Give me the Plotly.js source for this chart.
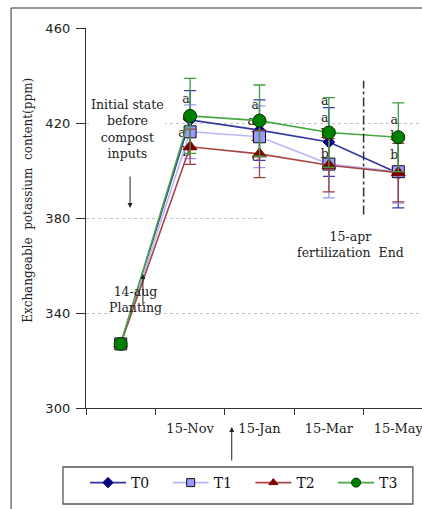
<!DOCTYPE html>
<html><head><meta charset="utf-8">
<script src="https://cdn.plot.ly/plotly-3.0.1.min.js"></script>
<style>html,body{margin:0;padding:0;overflow:hidden;width:422px;height:509px;background:#fff}</style>
</head><body><div id="chart"></div>
<script>
// ---- data ----
var xIndex = [0, 1, 2, 3, 4];
var tickLabels = ['', '15-Nov', '15-Jan', '15-Mar', '15-May'];
var seriesNames = ['T0', 'T1', 'T2', 'T3'];
var T0 = [327, 421.3, 417, 412, 398.8];
var T1 = [327, 416.3, 414.2, 402.7, 399.5];
var T2 = [327, 410, 407, 402.2, 399.1];
var T3 = [327, 423, 421, 416, 414];
var T0err = [0, 12.3, 12.7, 14.5, 14.5];
var T1err = [0, 11.3, 13, 14.2, 13.2];
var T2err = [0, 7.4, 10, 11.2, 12.3];
var T3err = [0, 15.8, 15, 14.7, 14.5];
// significance letters (category index, y, letter)
var sigX = [1, 1, 1, 1, 2, 2, 2, 2, 3, 3, 3, 3, 4, 4, 4];
var sigY = [429.7, 422.1, 415.4, 407.4, 427.2, 420.4, 413.7, 405.3, 428.8, 421.7, 415, 406.5, 420.8, 414.1, 406.1];
var sigText = ['a', 'a', 'ab', 'b', 'a', 'ab', 'b', 'c', 'a', 'a', 'b', 'b', 'a', 'b', 'b'];

var serif = 'DejaVu Serif, Liberation Serif, serif';

var styles = [
  {line: '#35359f', err: '#3a3ab0', marker: {symbol: 'diamond', size: 9, color: '#000080', line: {color: '#000080', width: 1}}, legSize: 8},
  {line: '#b8b8f8', err: '#9a9aff', marker: {symbol: 'square', size: 12, color: '#9999ff', line: {color: '#111', width: 1}}, legSize: 8},
  {line: '#a84444', err: '#a03c3c', marker: {symbol: 'triangle-up', size: 12, color: '#800000', line: {color: '#800000', width: 1}}, legSize: 8},
  {line: '#45a845', err: '#3ca03c', marker: {symbol: 'circle', size: 13, color: '#008000', line: {color: '#003300', width: 1}}, legSize: 9}
];
var values = [T0, T1, T2, T3];
var errors = [T0err, T1err, T2err, T3err];

var data = [
  {x: sigX.map(function(v){return v - 0.06;}), y: sigY, text: sigText, mode: 'text', type: 'scatter',
   textfont: {family: serif, size: 12.5, color: '#222'}, showlegend: false, hoverinfo: 'skip'}
];
seriesNames.forEach(function(name, i) {
  var s = styles[i];
  data.push({
    x: xIndex, y: values[i], name: name, type: 'scatter', mode: 'lines+markers',
    line: {color: s.line, width: 1.6}, marker: s.marker, showlegend: false,
    error_y: {type: 'data', array: errors[i], visible: true, color: s.err, thickness: 1.3, width: 6}
  });
});
// legend-only entries with smaller symbols (no points drawn)
seriesNames.forEach(function(name, i) {
  var s = styles[i];
  var m = JSON.parse(JSON.stringify(s.marker));
  m.size = s.legSize;
  data.push({x: [null], y: [null], name: name, type: 'scatter', mode: 'lines+markers',
    line: {color: s.line, width: 1.6}, marker: m, showlegend: true, hoverinfo: 'skip'});
});

var layout = {
  width: 445, height: 509,
  margin: {l: 86, r: 12, t: 28, b: 101},
  paper_bgcolor: '#fff', plot_bgcolor: '#fff',
  showlegend: true,
  xaxis: {
    range: [-0.5, 4.5], showgrid: false, zeroline: false,
    showline: true, linecolor: '#333', linewidth: 1.2,
    tickvals: xIndex, ticktext: tickLabels, ticks: '',
    tickfont: {family: serif, size: 13, color: '#222'},
    ticklabelstandoff: 8,
    minor: {tickvals: [-0.5, 0.5, 1.5, 2.5, 3.5, 4.5], ticks: 'outside', ticklen: 6, tickcolor: '#333', showgrid: false}
  },
  yaxis: {
    range: [300, 460], dtick: 40, tick0: 300,
    showgrid: true, gridcolor: '#c4c4c4', griddash: 'dot', gridwidth: 1,
    zeroline: false, showline: true, linecolor: '#333', linewidth: 1.2,
    ticks: 'outside', ticklen: 9, tickcolor: '#333', ticklabelstandoff: 3,
    tickfont: {family: 'DejaVu Sans, sans-serif', size: 13, color: '#222'}
  },
  legend: {
    orientation: 'h', x: 0.474, xanchor: 'center', yref: 'container', y: 0.0825, yanchor: 'top',
    borderwidth: 0, bgcolor: 'rgba(0,0,0,0)',
    font: {family: serif, size: 14, color: '#111'},
    itemwidth: 36, entrywidth: 31.7
  },
  shapes: [
    // white text boxes hiding gridlines
    {type: 'rect', xref: 'x', yref: 'y', x0: -0.44, x1: 0.64, y0: 404, y1: 433, fillcolor: '#fff', line: {width: 0}, layer: 'between'},
    {type: 'rect', xref: 'x', yref: 'y', x0: -0.14, x1: 0.62, y0: 338, y1: 350, fillcolor: '#fff', line: {width: 0}, layer: 'between'},
    {type: 'rect', xref: 'x', yref: 'y', x0: 2.08, x1: 4.6, y0: 370, y1: 383, fillcolor: '#fff', line: {width: 0}, layer: 'between'},
    // dash-dot vertical marker
    {type: 'line', xref: 'x', yref: 'y', x0: 3.5, x1: 3.5, y0: 381.5, y1: 437.8, line: {color: '#333', width: 1.5, dash: 'dashdot'}},
    // outer border
    {type: 'rect', xref: 'paper', yref: 'paper', x0: -0.216, x1: 1.2, y0: -0.4, y1: 1.0526, fillcolor: 'rgba(0,0,0,0)', line: {color: '#333', width: 1}},
    // legend box
    {type: 'rect', xref: 'paper', yref: 'paper', x0: -0.0663, x1: 0.942, y0: -0.2526, y1: -0.1553, fillcolor: 'rgba(0,0,0,0)', line: {color: '#555', width: 1.3}}
  ],
  annotations: [
    {xref: 'paper', yref: 'paper', x: -0.195, y: 0.546, text: 'Exchangeable  potassium  content(ppm)', textangle: -90,
     showarrow: false, font: {family: serif, size: 12, color: '#222'}},
    {xref: 'x', yref: 'y', x: 0.1, y: 417.5, text: 'Initial state<br>before<br>compost<br>inputs', showarrow: false,
     align: 'center', font: {family: serif, size: 12.5, color: '#222'}},
    {xref: 'x', yref: 'y', x: 0.22, y: 345.7, text: '14-aug<br>Planting', showarrow: false,
     align: 'center', font: {family: serif, size: 12.5, color: '#222'}},
    {xref: 'x', yref: 'y', x: 3.31, y: 369, text: '15-apr<br>fertilization  End', showarrow: false,
     align: 'center', font: {family: serif, size: 12.5, color: '#222'}},
    // arrows
    {xref: 'x', yref: 'y', x: 0.135, y: 384.2, axref: 'x', ayref: 'y', ax: 0.135, ay: 398.1, text: '',
     showarrow: true, arrowhead: 2, arrowsize: 1, arrowwidth: 1, arrowcolor: '#222'},
    {xref: 'x', yref: 'y', x: 0.32, y: 356.4, axref: 'x', ayref: 'y', ax: 0.32, ay: 342.7, text: '',
     showarrow: true, arrowhead: 2, arrowsize: 1, arrowwidth: 1, arrowcolor: '#222'},
    {xref: 'paper', yref: 'paper', x: 0.42, y: -0.05, ax: 0, ay: 35, text: '',
     showarrow: true, arrowhead: 2, arrowsize: 1, arrowwidth: 1, arrowcolor: '#222'}
  ]
};

Plotly.newPlot('chart', data, layout, {displayModeBar: false, staticPlot: true});
</script>
</body></html>
